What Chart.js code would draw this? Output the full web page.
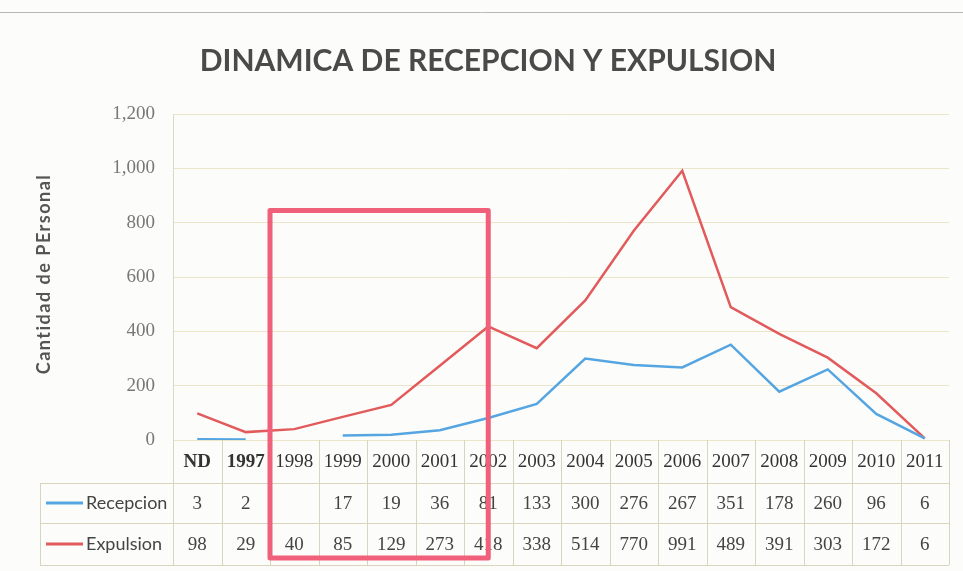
<!DOCTYPE html>
<html>
<head>
<meta charset="utf-8">
<script src="https://cdn.jsdelivr.net/npm/chart.js@4"></script>
<style>
  html, body { margin: 0; padding: 0; background: #fcfdfa; }
  #wrap { width: 963px; height: 571px; position: relative; }
</style>
</head>
<body>
<div id="wrap"><canvas id="chart" width="963" height="571"></canvas></div>
<script>
// --- Data ---
const categories = ['ND', '1997', '1998', '1999', '2000', '2001', '2002', '2003', '2004', '2005', '2006', '2007', '2008', '2009', '2010', '2011'];
const recepcion = [3, 2, null, 17, 19, 36, 81, 133, 300, 276, 267, 351, 178, 260, 96, 6];
const expulsion = [98, 29, 40, 85, 129, 273, 418, 338, 514, 770, 991, 489, 391, 303, 172, 6];
const seriesNames = ['Recepcion', 'Expulsion'];
const yTicks = [0, 200, 400, 600, 800, 1000, 1200];
const boxTopValue = 845; // hand-drawn highlight box top

const BLUE = '#55a5e2';
const RED = '#e25a5c';
const GRID = '#ebe5c9';
const TABLE_LINE = '#d9d5bd';

// --- Table + title + annotation drawn around the chart area ---
const decorPlugin = {
    id: 'decor',
    beforeDraw(chart) {
        const { ctx, width } = chart;
        ctx.save();
        ctx.fillStyle = '#fcfdfa';
        ctx.fillRect(0, 0, width, chart.height);
        // thin rule at top of page
        ctx.strokeStyle = '#b9b9b9';
        ctx.lineWidth = 1;
        ctx.beginPath();
        ctx.moveTo(0, 12.5);
        ctx.lineTo(width, 12.5);
        ctx.stroke();
        ctx.restore();
    },
    afterDraw(chart) {
        const { ctx, chartArea: a, scales: { x, y } } = chart;
        const colW = x.getPixelForValue(1) - x.getPixelForValue(0);
        const legendLeft = 40;
        const rows = [a.bottom, a.bottom + 43, a.bottom + 83, a.bottom + 125];
        ctx.save();

        // title
        ctx.fillStyle = '#4a4a4a';
        ctx.font = 'bold 30px Lato';
        ctx.textAlign = 'center';
        ctx.textBaseline = 'middle';
        ctx.fillText('DINAMICA DE RECEPCION Y EXPULSION', 488, 61);

        // y axis title
        ctx.save();
        ctx.translate(44, 274);
        ctx.rotate(-Math.PI / 2);
        ctx.font = 'bold 18px Lato';
        ctx.letterSpacing = '1.5px';
        ctx.fillStyle = '#555';
        ctx.fillText('Cantidad de PErsonal', 0, 0);
        ctx.restore();

        // table grid
        ctx.strokeStyle = TABLE_LINE;
        ctx.lineWidth = 1;
        ctx.beginPath();
        for (let r = 1; r < rows.length; r++) {
            ctx.moveTo(legendLeft, Math.round(rows[r]) + 0.5);
            ctx.lineTo(a.right, Math.round(rows[r]) + 0.5);
        }
        ctx.moveTo(legendLeft + 0.5, rows[1]);
        ctx.lineTo(legendLeft + 0.5, rows[3]);
        for (let i = 0; i <= categories.length; i++) {
            const px = Math.round(x.getPixelForValue(i) - colW / 2) + 0.5;
            ctx.moveTo(px, a.bottom);
            ctx.lineTo(px, rows[3]);
        }
        ctx.stroke();

        // header labels
        ctx.fillStyle = '#333';
        ctx.textAlign = 'center';
        categories.forEach((c, i) => {
            ctx.font = i < 2 ? 'bold 19px "Liberation Serif"' : '19px "Liberation Serif"';
            ctx.fillText(c, x.getPixelForValue(i), (rows[0] + rows[1]) / 2 + 1);
        });

        // rows
        const data = [recepcion, expulsion];
        const colors = [BLUE, RED];
        data.forEach((vals, r) => {
            const cy = (rows[r + 1] + rows[r + 2]) / 2;
            ctx.strokeStyle = colors[r];
            ctx.lineWidth = 3;
            ctx.beginPath();
            ctx.moveTo(legendLeft + 6, cy);
            ctx.lineTo(legendLeft + 43, cy);
            ctx.stroke();
            ctx.fillStyle = '#444';
            ctx.textAlign = 'left';
            ctx.font = '18px Lato';
            ctx.fillText(seriesNames[r], legendLeft + 46, cy);
            ctx.textAlign = 'center';
            ctx.font = '19px "Liberation Serif"';
            vals.forEach((v, i) => {
                if (v !== null) ctx.fillText(String(v), x.getPixelForValue(i), cy + 1);
            });
        });

        // highlight box
        const bx0 = (x.getPixelForValue(1) + x.getPixelForValue(2)) / 2;
        const bx1 = x.getPixelForValue(6);
        const by0 = y.getPixelForValue(boxTopValue);
        const by1 = rows[3] - 7;
        ctx.strokeStyle = '#f0607a';
        ctx.lineWidth = 5;
        ctx.lineJoin = 'round';
        ctx.strokeRect(bx0, by0, bx1 - bx0, by1 - by0);
        ctx.restore();
    }
};

new Chart(document.getElementById('chart'), {
    type: 'line',
    data: {
        labels: categories,
        datasets: [
            { label: seriesNames[0], data: recepcion, borderColor: BLUE, borderWidth: 2.5, pointRadius: 0, tension: 0, spanGaps: false },
            { label: seriesNames[1], data: expulsion, borderColor: RED, borderWidth: 2.5, pointRadius: 0, tension: 0 }
        ]
    },
    options: {
        responsive: false,
        animation: false,
        layout: { padding: { top: 114, right: 14, bottom: 131, left: 0 } },
        plugins: { legend: { display: false }, title: { display: false }, tooltip: { enabled: false } },
        scales: {
            x: { display: false, offset: true },
            y: {
                min: yTicks[0],
                max: yTicks[yTicks.length - 1],
                afterFit(scale) { scale.width = 173; },
                afterBuildTicks(scale) { scale.ticks = yTicks.map(v => ({ value: v })); },
                ticks: {
                    padding: 18,
                    color: '#777',
                    font: { family: 'Liberation Serif', size: 19 },
                    callback: v => v.toLocaleString('en-US')
                },
                grid: { color: GRID, drawTicks: false },
                border: { color: '#dcd8c4' }
            }
        }
    },
    plugins: [decorPlugin]
});
</script>
</body>
</html>
